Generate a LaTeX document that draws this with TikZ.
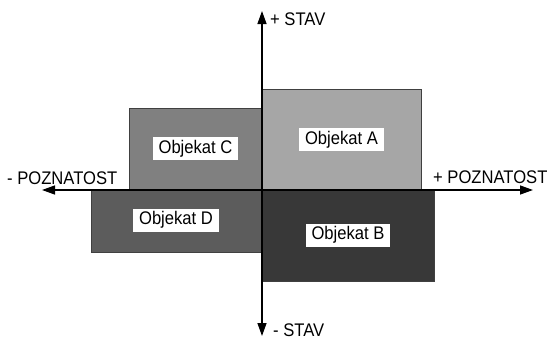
\documentclass[tikz,border=0pt]{standalone}
\usepackage{fontspec}
\usepackage{graphicx}
\setmainfont{Liberation Sans}
\usetikzlibrary{arrows.meta}
% slightly tall lettering
\newcommand{\tallword}[1]{\scalebox{1}[1.1]{#1}}
\begin{document}
\begin{tikzpicture}[x=1pt,y=-1pt,
  block/.style={draw=black!75, line width=0.7pt, anchor=north west, inner sep=0pt},
  tag/.style={fill=white, inner xsep=6pt, inner ysep=0pt, minimum height=23pt, font=\fontsize{16.6}{18}\selectfont},
  axislabel/.style={font=\fontsize{16.6}{18}\selectfont, inner sep=0pt, anchor=base west},
  axis/.style={line width=1.4pt, -{Triangle[length=13pt,width=9pt]}}]
\useasboundingbox (0,0) rectangle (550,340);
% quadrant blocks
\node[block, fill=black!35, minimum width=159pt, minimum height=101pt] (A) at (262,89) {};
\node[block, fill=black!78, minimum width=172pt, minimum height=91pt] (B) at (262,190) {};
\node[block, fill=black!50, minimum width=133pt, minimum height=82pt] (C) at (129,108) {};
\node[block, fill=black!64, minimum width=171pt, minimum height=62pt] (D) at (91,190) {};
% block captions
\node[tag] (la) at (341.5,139.5) {\tallword{Objekat A}};
\node[tag] (lb) at (348,235) {\tallword{Objekat B}};
\node[tag] (lc) at (195.5,148.5) {\tallword{Objekat C}};
\node[tag] (ld) at (176,220) {\tallword{Objekat D}};
% axes
\coordinate (o) at (262,190);
\coordinate (top) at (262,11);
\coordinate (bot) at (262,336);
\coordinate (left) at (42,190);
\coordinate (right) at (533,190);
\draw[axis] (o) -- (top);
\draw[axis] (o) -- (bot);
\draw[axis] (o) -- (left);
\draw[axis] (o) -- (right);
% axis labels
\node[axislabel] (ps) at (270,26) {\tallword{+ STAV}};
\node[axislabel] (ms) at (273,336) {\tallword{- STAV}};
\node[axislabel] (mp) at (7,184) {\tallword{- POZNATOST}};
\node[axislabel] (pp) at (433,183) {\tallword{+ POZNATOST}};
\end{tikzpicture}
\end{document}
